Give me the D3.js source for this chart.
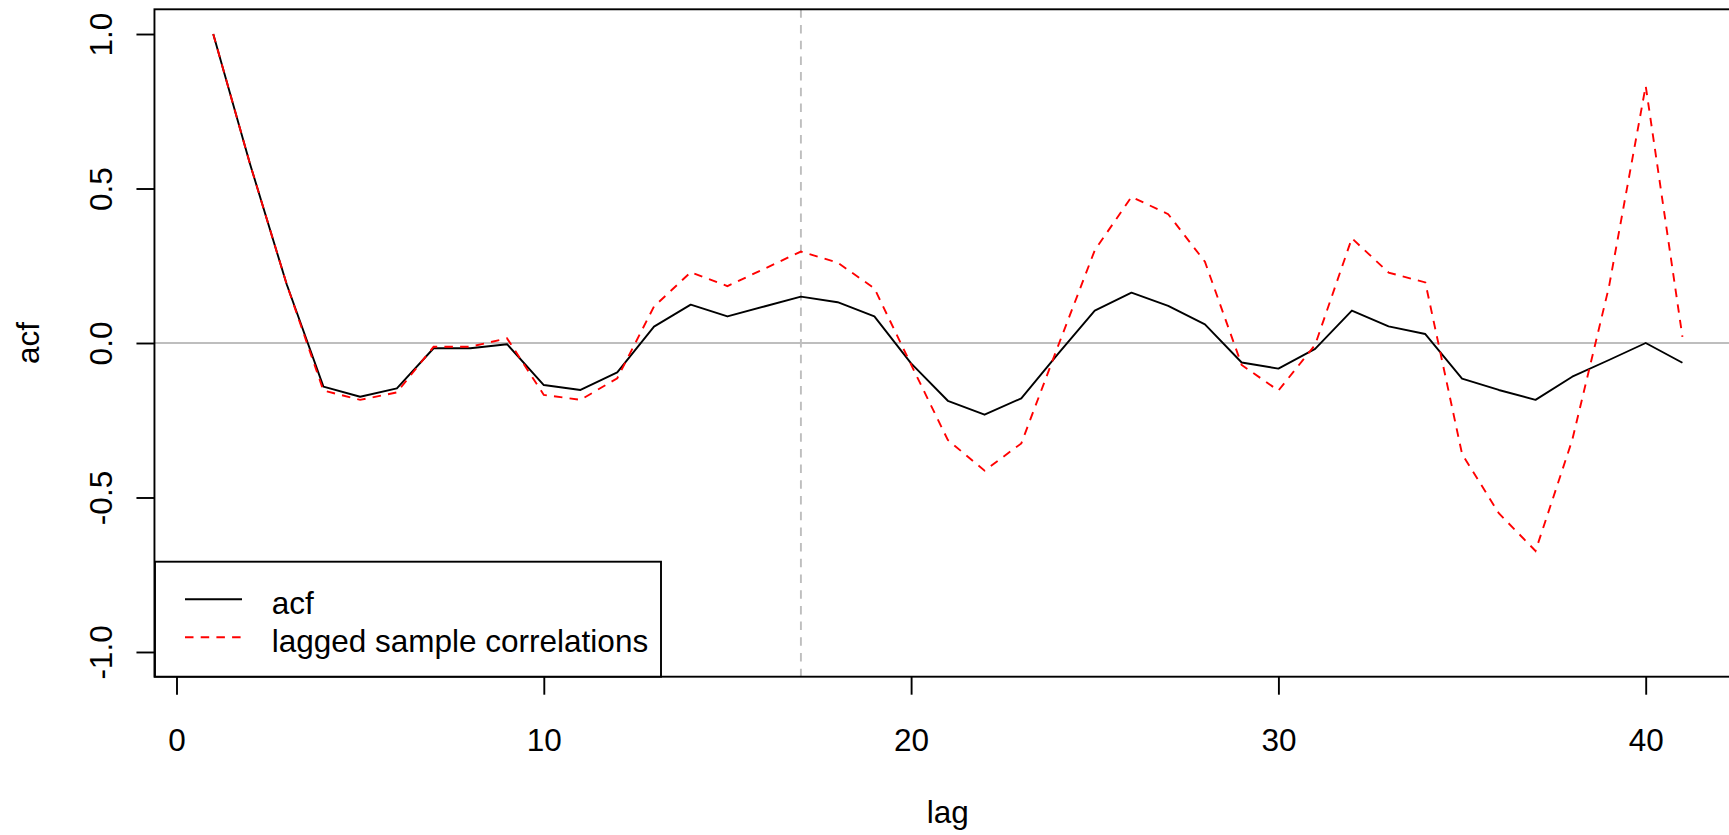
<!DOCTYPE html>
<html>
<head>
<meta charset="utf-8">
<script src="https://cdn.jsdelivr.net/npm/d3@7"></script>
<style>
  html, body { margin: 0; padding: 0; background: #fff; }
  svg { display: block; }
  text { font-family: "Liberation Sans", Arial, Helvetica, sans-serif; fill: #000; }
</style>
</head>
<body>
<svg id="chart" width="1729" height="835"></svg>
<script>
const lags = d3.range(1, 42);
const acfValues = [1.0, 0.58, 0.19, -0.141, -0.174, -0.147, -0.017, -0.017, -0.004, -0.136,
  -0.152, -0.095, 0.053, 0.124, 0.086, 0.118, 0.150, 0.132, 0.086, -0.066,
  -0.187, -0.232, -0.179, -0.035, 0.105, 0.163, 0.120, 0.060, -0.063, -0.083,
  -0.019, 0.105, 0.054, 0.029, -0.115, -0.152, -0.184, -0.109, -0.055, 0.0,
  -0.064];
const laggedValues = [1.0, 0.58, 0.19, -0.154, -0.184, -0.160, -0.012, -0.012, 0.015, -0.168,
  -0.184, -0.114, 0.118, 0.229, 0.184, 0.24, 0.296, 0.260, 0.177, -0.07,
  -0.314, -0.413, -0.325, -0.01, 0.30, 0.473, 0.417, 0.263, -0.071, -0.154,
  -0.006, 0.339, 0.228, 0.196, -0.359, -0.551, -0.673, -0.314, 0.182, 0.832,
  0.020];
const xTicks = [0, 10, 20, 30, 40];
const yTicks = [-1.0, -0.5, 0.0, 0.5, 1.0];
const yTickLabels = ["-1.0", "-0.5", "0.0", "0.5", "1.0"];
const seriesNames = ["acf", "lagged sample correlations"];
const vLineLag = 17;

const svg = d3.select("#chart");
const FS = 31.5;
const LW = 1.9;
const DASH = "8.5 7.2";

const x = d3.scaleLinear().domain([-0.6, 42.6]).range([154.46, 1741.2]);
const y = d3.scaleLinear().domain([-1.08, 1.08]).range([676.7, 9.3]);

const [x0, x1] = x.range();
const [yb, yt] = y.range();

// reference lines
svg.append("line")
  .attr("x1", x0).attr("x2", x1).attr("y1", y(0)).attr("y2", y(0))
  .attr("stroke", "#bebebe").attr("stroke-width", LW);
svg.append("line")
  .attr("x1", x(vLineLag)).attr("x2", x(vLineLag)).attr("y1", yt).attr("y2", yb)
  .attr("stroke", "#bebebe").attr("stroke-width", LW).attr("stroke-dasharray", DASH);

const line = d3.line().x((d, i) => x(lags[i])).y(d => y(d));

svg.append("path").datum(acfValues)
  .attr("d", line).attr("fill", "none").attr("stroke", "#000")
  .attr("stroke-width", LW).attr("stroke-linejoin", "round");
svg.append("path").datum(laggedValues)
  .attr("d", line).attr("fill", "none").attr("stroke", "#ff0000")
  .attr("stroke-width", LW).attr("stroke-dasharray", DASH);

// box (left, top, bottom; right edge off-canvas)
svg.append("rect")
  .attr("x", x0).attr("y", yt).attr("width", x1 - x0).attr("height", yb - yt)
  .attr("fill", "none").attr("stroke", "#000").attr("stroke-width", LW);

// x axis
const gx = svg.append("g").attr("transform", `translate(0,${yb})`)
  .call(d3.axisBottom(x).tickValues(xTicks).tickSize(18).tickSizeOuter(0).tickFormat(d3.format("d")));
gx.select(".domain").remove();
gx.selectAll(".tick line").attr("stroke", "#000").attr("stroke-width", LW);
gx.selectAll(".tick text").attr("y", 751 - yb).attr("dy", null)
  .style("font-size", FS + "px").style("font-family", "Liberation Sans, Arial, sans-serif").attr("fill", "#000");

// y axis
const gy = svg.append("g").attr("transform", `translate(${x0},0)`)
  .call(d3.axisLeft(y).tickValues(yTicks).tickSize(18).tickSizeOuter(0).tickFormat((d, i) => yTickLabels[i]));
gy.select(".domain").remove();
gy.selectAll(".tick line").attr("stroke", "#000").attr("stroke-width", LW);
gy.selectAll(".tick text")
  .attr("x", null).attr("dy", null)
  .attr("text-anchor", "middle")
  .attr("transform", `translate(${112 - x0},0) rotate(-90)`)
  .style("font-size", FS + "px").style("font-family", "Liberation Sans, Arial, sans-serif").attr("fill", "#000");

// axis titles
svg.append("text").attr("x", (x0 + x1) / 2).attr("y", 823)
  .attr("text-anchor", "middle").style("font-size", FS + "px").text("lag");
svg.append("text").attr("transform", `translate(39,${(yt + yb) / 2}) rotate(-90)`)
  .attr("text-anchor", "middle").style("font-size", FS + "px").text("acf");

// legend
const lg = svg.append("g");
lg.append("rect").attr("x", 155).attr("y", 561.7).attr("width", 661 - 155).attr("height", yb - 561.7)
  .attr("fill", "#fff").attr("stroke", "#000").attr("stroke-width", LW);
const legendRows = [
  { name: seriesNames[0], color: "#000", dash: null, ly: 599.3, ty: 614 },
  { name: seriesNames[1], color: "#ff0000", dash: DASH, ly: 637.3, ty: 651.7 }
];
legendRows.forEach(r => {
  lg.append("line").attr("x1", 185).attr("x2", 242).attr("y1", r.ly).attr("y2", r.ly)
    .attr("stroke", r.color).attr("stroke-width", LW).attr("stroke-dasharray", r.dash);
  lg.append("text").attr("x", 271.7).attr("y", r.ty).style("font-size", FS + "px").text(r.name);
});
</script>
</body>
</html>
